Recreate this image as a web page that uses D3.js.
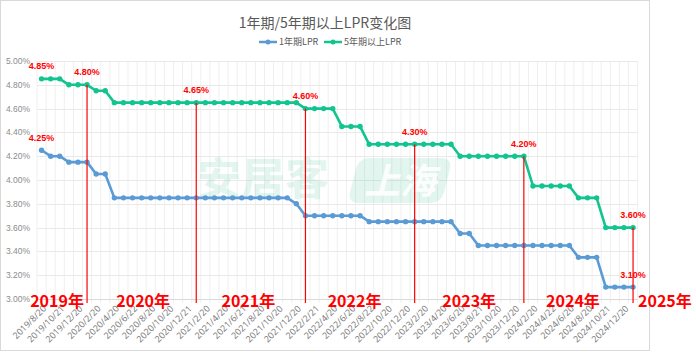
<!DOCTYPE html>
<html>
<head>
<meta charset="utf-8">
<script src="https://cdn.jsdelivr.net/npm/d3@7/dist/d3.min.js"></script>
<style>
html,body{margin:0;padding:0;background:#fff;}
svg{display:block;}
text{font-family:"Noto Sans CJK SC","Noto Sans",sans-serif;}
</style>
</head>
<body>
<svg id="chart" width="696" height="352"></svg>
<script>
// ---- data ----
const dates = [
 "2019/8/20","2019/9/20","2019/10/21","2019/11/20","2019/12/20",
 "2020/1/20","2020/2/20","2020/3/20","2020/4/20","2020/5/20","2020/6/22","2020/7/20","2020/8/20","2020/9/21","2020/10/20","2020/11/20","2020/12/21",
 "2021/1/20","2021/2/20","2021/3/22","2021/4/20","2021/5/20","2021/6/21","2021/7/20","2021/8/20","2021/9/22","2021/10/20","2021/11/22","2021/12/20",
 "2022/1/20","2022/2/21","2022/3/21","2022/4/20","2022/5/20","2022/6/20","2022/7/20","2022/8/22","2022/9/20","2022/10/20","2022/11/21","2022/12/20",
 "2023/1/20","2023/2/20","2023/3/20","2023/4/20","2023/5/22","2023/6/20","2023/7/20","2023/8/21","2023/9/20","2023/10/20","2023/11/20","2023/12/20",
 "2024/1/22","2024/2/20","2024/3/20","2024/4/22","2024/5/20","2024/6/20","2024/7/22","2024/8/20","2024/9/20","2024/10/21","2024/11/20","2024/12/20",
 "2025/1/20"
];
const lpr1y = [
 4.25,4.20,4.20,4.15,4.15,
 4.15,4.05,4.05,3.85,3.85,3.85,3.85,3.85,3.85,3.85,3.85,3.85,
 3.85,3.85,3.85,3.85,3.85,3.85,3.85,3.85,3.85,3.85,3.85,3.80,
 3.70,3.70,3.70,3.70,3.70,3.70,3.70,3.65,3.65,3.65,3.65,3.65,
 3.65,3.65,3.65,3.65,3.65,3.55,3.55,3.45,3.45,3.45,3.45,3.45,
 3.45,3.45,3.45,3.45,3.45,3.45,3.35,3.35,3.35,3.10,3.10,3.10,
 3.10
];
const lpr5y = [
 4.85,4.85,4.85,4.80,4.80,
 4.80,4.75,4.75,4.65,4.65,4.65,4.65,4.65,4.65,4.65,4.65,4.65,
 4.65,4.65,4.65,4.65,4.65,4.65,4.65,4.65,4.65,4.65,4.65,4.65,
 4.60,4.60,4.60,4.60,4.45,4.45,4.45,4.30,4.30,4.30,4.30,4.30,
 4.30,4.30,4.30,4.30,4.30,4.20,4.20,4.20,4.20,4.20,4.20,4.20,
 4.20,3.95,3.95,3.95,3.95,3.95,3.85,3.85,3.85,3.60,3.60,3.60,
 3.60
];
const seriesNames = ["1年期LPR","5年期以上LPR"];
const yTicks = [3.0,3.2,3.4,3.6,3.8,4.0,4.2,4.4,4.6,4.8,5.0];
const title = "1年期/5年期以上LPR变化图";
// annotated points (series, date)
const notes5y = ["2019/8/20","2020/1/20","2021/1/20","2022/1/20","2023/1/20","2024/1/22","2025/1/20"];
const notes1y = ["2019/8/20","2025/1/20"];
// year boundary markers (red verticals)
const yearLines = ["2020/1/20","2021/1/20","2022/1/20","2023/1/20","2024/1/22","2025/1/20"];
const yearLabels = ["2019年","2020年","2021年","2022年","2023年","2024年","2025年"];

// ---- layout ----
const W = 696, H = 352;
const plot = {left:37, right:637.6, top:61, bottom:299};
const blue = "#5b9bd5", green = "#12c48f", red = "#ff0000";

const svg = d3.select("#chart");
svg.append("rect").attr("x",0).attr("y",0).attr("width",W).attr("height",H).attr("fill","#fff");
svg.append("rect").attr("x",0.5).attr("y",0.5).attr("width",649).attr("height",350)
  .attr("fill","none").attr("stroke","#d9d9d9");

const x = d3.scaleBand().domain(dates).range([plot.left, plot.right]).padding(0);
const cx = d => x(d) + x.bandwidth()/2;
const y = d3.scaleLinear().domain([3.0,5.0]).range([plot.bottom, plot.top]);

// vertical grid (band boundaries) with small ticks below axis
const gv = svg.append("g");
const bounds = dates.map(d => x(d)).concat([plot.right]);
gv.selectAll("line").data(bounds).join("line")
  .attr("x1",d=>d).attr("x2",d=>d).attr("y1",plot.top).attr("y2",plot.bottom+4)
  .attr("stroke","#efefef").attr("stroke-width",1);

// horizontal grid
svg.append("g").selectAll("line").data(yTicks).join("line")
  .attr("x1",plot.left).attr("x2",plot.right)
  .attr("y1",d=>Math.round(y(d))+0.5).attr("y2",d=>Math.round(y(d))+0.5)
  .attr("stroke",d=>d===3.0?"#d9d9d9":"#e9e9e9").attr("stroke-width",1);

// y axis labels
svg.append("g").selectAll("text").data(yTicks).join("text")
  .attr("x",30).attr("y",d=>y(d)).attr("dy","0.35em")
  .attr("text-anchor","end").attr("font-size","8.5px").attr("fill","#8c8c8c")
  .style("font-family","'Liberation Sans',sans-serif")
  .text(d=>d3.format(".2f")(d)+"%");

// x axis labels (every other)
svg.append("g").selectAll("text").data(dates.filter((d,i)=>i%2===0)).join("text")
  .attr("transform",d=>`translate(${cx(d)+3},${307}) rotate(-45)`)
  .attr("text-anchor","end").attr("dy","0.35em")
  .attr("font-size","9px").attr("fill","#808080")
  .style("font-family","'Noto Sans',sans-serif")
  .text(d=>d);

// watermark
const wm = svg.append("g").attr("opacity",0.11);
wm.append("text").attr("x",197).attr("y",195).attr("font-size","44px").attr("font-weight","bold")
  .attr("fill","#00b67a").text("安居客");
const badge = wm.append("g").attr("transform","translate(400,180.5) skewX(-14)");
badge.append("rect").attr("x",-47).attr("y",-22.5).attr("width",94).attr("height",45).attr("rx",10)
  .attr("fill","#00b67a");
svg.append("text").attr("x",400).attr("y",194).attr("text-anchor","middle")
  .attr("font-size","36px").attr("font-weight","bold").attr("font-style","italic")
  .attr("fill","#fff").attr("opacity",0.9).text("上海");

// title
svg.append("text").attr("x",325).attr("y",28).attr("text-anchor","middle")
  .attr("font-size","14px").attr("fill","#595959").text(title);

// legend
const legendItems = [{name:seriesNames[0],color:blue,x:259},{name:seriesNames[1],color:green,x:324}];
const lg = svg.append("g").selectAll("g").data(legendItems).join("g")
  .attr("transform",d=>`translate(${d.x},42)`);
lg.append("line").attr("x1",0).attr("x2",18).attr("stroke",d=>d.color).attr("stroke-width",2.5);
lg.append("circle").attr("cx",9).attr("r",2.5).attr("fill",d=>d.color);
lg.append("text").attr("x",20).attr("dy","0.35em").attr("font-size","9px").attr("fill","#595959")
  .text(d=>d.name);

// series
const series = [{vals:lpr1y,color:blue},{vals:lpr5y,color:green}];
const line = d3.line().x((v,i)=>cx(dates[i])).y(v=>y(v));
series.forEach(s=>{
  svg.append("path").datum(s.vals).attr("d",line).attr("fill","none")
    .attr("stroke",s.color).attr("stroke-width",2.6).attr("stroke-linejoin","round");
  svg.append("g").selectAll("circle").data(s.vals).join("circle")
    .attr("cx",(v,i)=>cx(dates[i])).attr("cy",v=>y(v)).attr("r",2.7).attr("fill",s.color);
});

// red vertical year lines from 5y point down
const idx = d => dates.indexOf(d);
svg.append("g").selectAll("line").data(yearLines).join("line")
  .attr("x1",d=>cx(d)).attr("x2",d=>cx(d))
  .attr("y1",d=>y(lpr5y[idx(d)])).attr("y2",plot.bottom+4)
  .attr("stroke",red).attr("stroke-width",1.2);

// value annotations
const notes = notes5y.map(d=>({d,v:lpr5y[idx(d)]})).concat(notes1y.map(d=>({d,v:lpr1y[idx(d)]})));
svg.append("g").selectAll("text").data(notes).join("text")
  .attr("x",n=>cx(n.d)).attr("y",n=>y(n.v)-9.5).attr("text-anchor","middle")
  .attr("font-size","9px").attr("font-weight","bold").attr("fill",red)
  .style("font-family","'Liberation Sans',sans-serif")
  .text(n=>d3.format(".2f")(n.v)+"%");

// year labels
const bx = [plot.left].concat(yearLines.map(cx));
const nudge = [-5, 1.5, -2.5, -5.5, 0, -5.5];
svg.append("g").selectAll("text").data(yearLabels).join("text")
  .attr("x",(t,i)=> i < 6 ? (bx[i]+bx[i+1])/2 + nudge[i] : bx[6]+5)
  .attr("y",306.5)
  .attr("text-anchor",(t,i)=> i<6 ? "middle":"start")
  .attr("font-size","16px").attr("font-weight","bold").attr("fill",red)
  .text(t=>t);
</script>
</body>
</html>
